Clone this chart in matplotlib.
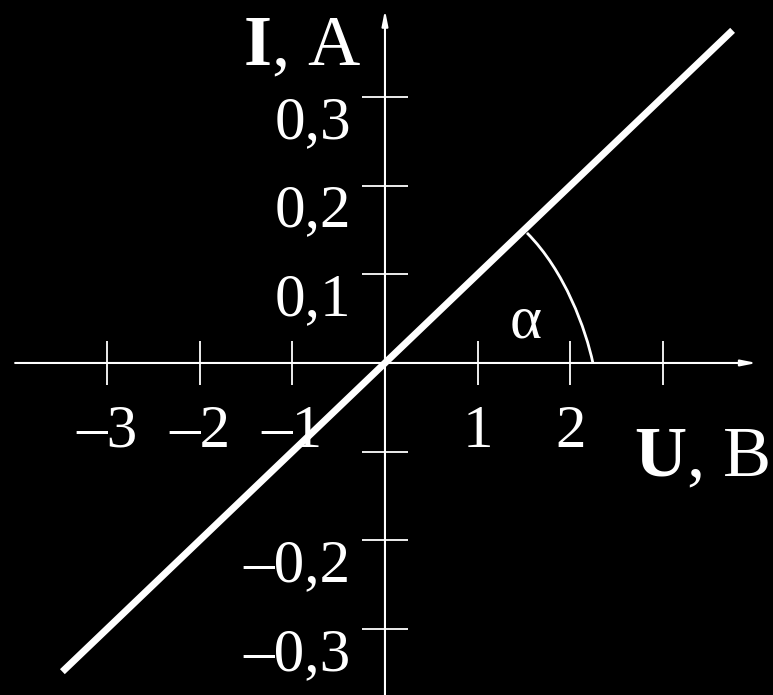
import matplotlib
matplotlib.use("Agg")
import matplotlib.pyplot as plt
from matplotlib.path import Path
from matplotlib.patches import PathPatch

# current-voltage line (U in volts, I in amperes), endpoints as drawn
line_u = [-3.48, 3.75]
line_i = [-0.348, 0.375]

x_ticks = [-3, -2, -1, 1, 2, 3]
x_labels = ["–3", "–2", "–1", "1", "2", ""]
y_ticks = [-0.3, -0.2, -0.1, 0.1, 0.2, 0.3]
y_labels = ["–0,3", "–0,2", "", "0,1", "0,2", "0,3"]

# angle mark between the line and the U axis (cubic Bezier control points)
arc_u = [1.532, 1.942, 2.168, 2.243]
arc_i = [0.1466, 0.1037, 0.0372, 0.0]

FG = "white"
BG = "black"

plt.rcParams["font.family"] = ["Liberation Serif", "DejaVu Serif"]
plt.rcParams["mathtext.fontset"] = "custom"
plt.rcParams["mathtext.rm"] = "Liberation Serif"
plt.rcParams["mathtext.bf"] = "Liberation Serif:bold"

fig = plt.figure(figsize=(7.73, 6.95), dpi=100, facecolor=BG)
ax = fig.add_axes([0, 0, 1, 1], facecolor=BG)
ax.set_xlim(-4.153, 4.186)
ax.set_ylim(-0.3743, 0.4092)
ax.axis("off")

# axes with arrow heads
arrow = dict(arrowstyle="-|>,head_length=0.9,head_width=0.18", color=FG, lw=1.5,
             shrinkA=0, shrinkB=0)
ax.annotate("", xy=(4.01, 0), xytext=(-3.99, 0), arrowprops=arrow)
ax.annotate("", xy=(0, 0.398), xytext=(0, -0.3743), arrowprops=arrow)

# tick marks
ax.vlines(x_ticks, -0.0248, 0.0248, color=FG, lw=1.3)
ax.hlines(y_ticks, -0.245, 0.25, color=FG, lw=1.3)

for u, lab in zip(x_ticks, x_labels):
    ax.annotate(lab, xy=(u, 0), xytext=(0, -84), textcoords="offset pixels",
                ha="center", va="baseline", fontsize=44, color=FG)
for i, lab in zip(y_ticks, y_labels):
    ax.annotate(lab, xy=(0, i), xytext=(-34, -41), textcoords="offset pixels",
                ha="right", va="baseline", fontsize=44, color=FG)

# axis titles
ax.annotate(r"$\mathbf{I}$, A", xy=(0, 0), xytext=(-142, 298),
            textcoords="offset pixels", ha="left", va="baseline",
            fontsize=52, color=FG)
ax.annotate(r"$\mathbf{U}$, B", xy=(0, 0), xytext=(249, -113),
            textcoords="offset pixels", ha="left", va="baseline",
            fontsize=52, color=FG)

# the I(U) line
ax.plot(line_u, line_i, color=FG, lw=5, solid_capstyle="butt", zorder=5)

# angle arc and its label
arc = Path(list(zip(arc_u, arc_i)), [Path.MOVETO, Path.CURVE4, Path.CURVE4, Path.CURVE4])
ax.add_patch(PathPatch(arc, fill=False, edgecolor=FG, lw=2, zorder=4))
ax.text(1.52, 0.029, "α", ha="center", va="baseline", fontsize=44, color=FG)

fig.savefig("out.png", dpi=100, facecolor=BG)
